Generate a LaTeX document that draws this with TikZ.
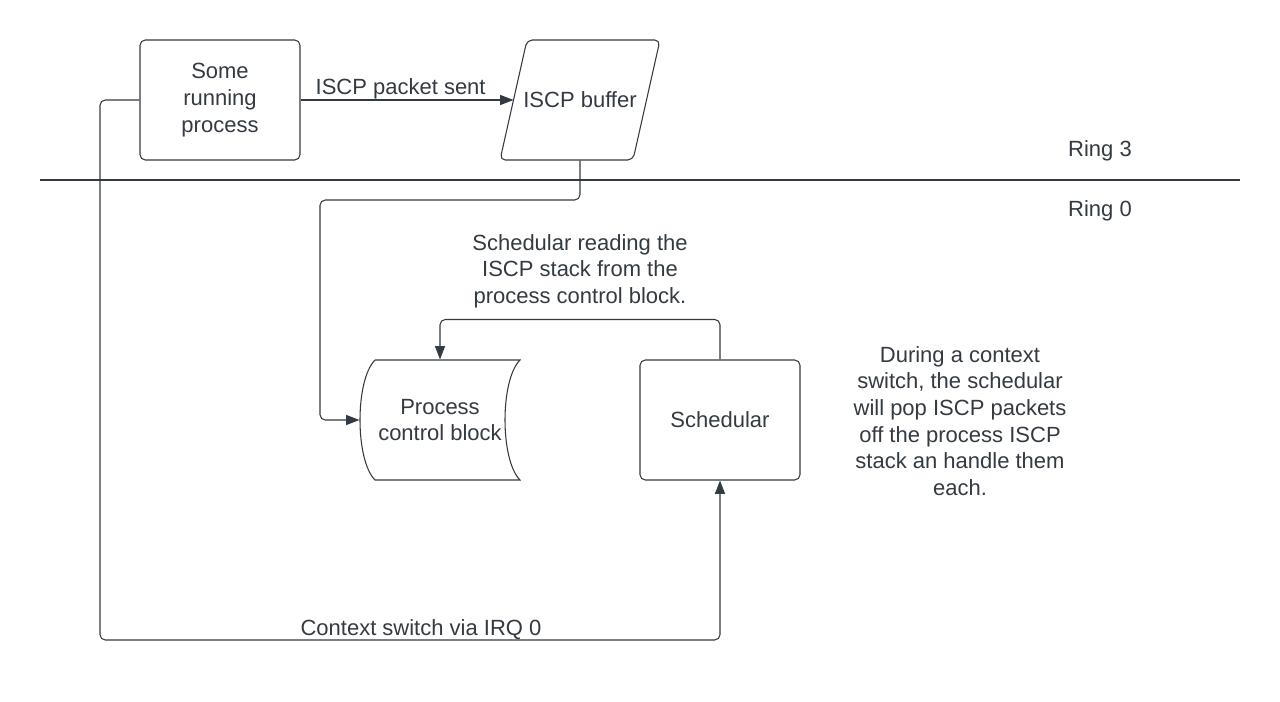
\documentclass[tikz,border=0pt]{standalone}
\usepackage{fontspec}
\setmainfont{Liberation Sans}
\usetikzlibrary{arrows.meta}
\definecolor{ink}{HTML}{343A42}

\begin{document}
\begin{tikzpicture}[x=0.75pt,y=-0.75pt,line width=0.8pt,draw=ink,text=ink,
		font=\fontsize{16.5}{20}\selectfont,
		box/.style = {draw, rounded corners=4pt, minimum width=120pt, minimum height=90pt, align=center},
		blk/.style = {minimum width=120pt, minimum height=90pt, align=center},
		lbl/.style = {align=center},
		>={Triangle[length=10pt,width=7.5pt]}]
		\useasboundingbox (0,0) rectangle (1280,702);
		
		%Ring 3 part of the graph
		\node[box] (proc) at (220,100) {Some\\running\\process};
		\node[blk] (buffer) at (580,100) {ISCP buffer};
		\draw[rounded corners=4pt] (527,40) -- (660,40) -- (633,160) -- (500,160) -- cycle; %Parallelogram outline
		\coordinate (bufin) at (513.5,100);
		
		%Border between the rings
		\coordinate (ringL) at (40,180);
		\coordinate (ringR) at (1240,180);
		\draw (ringL) -- (ringR);
		\node[anchor=base] (ring3) at (1100,157) {Ring 3};
		\node[anchor=base] (ring0) at (1100,217) {Ring 0};
		
		%Ring 0 part of the graph
		\node[blk] (pcb) at (440,420) {Process\\control block};
		\draw (375,360) -- (520,360) .. controls (500,380) and (500,460) .. (520,480)
			-- (375,480) .. controls (355,460) and (355,380) .. (375,360); %Stored data outline
		\node[box] (sched) at (720,420) {Schedular};
		\node[lbl] (readlbl) at (580,271) {Schedular reading the\\ISCP stack from the\\process control block.};
		\node[lbl] (note) at (960,421) {During a context\\switch, the schedular\\will pop ISCP packets\\off the process ISCP\\stack an handle them\\each.};
		
		%Bends of the connectors
		\coordinate (bufbend) at (320,200);
		\coordinate (irqbend) at (100,640);
		
		%Edges with direction
		\draw[->] (proc.east) -- node[above,inner sep=0.5pt,pos=0.47] {ISCP packet sent} (bufin); %Process -> buffer
		\draw[->,rounded corners=4pt] (buffer.south) |- (bufbend) |- (pcb.west); %Buffer -> PCB
		\draw[->,rounded corners=4pt] (sched.north) -- ++(0,-40) -| (pcb.north); %Schedular -> PCB
		\draw[->,rounded corners=4pt] (proc.west) -| (irqbend) -| (sched.south); %Process -> schedular
		\node[anchor=south,inner sep=0pt] (irqlbl) at (421,640) {Context switch via IRQ 0};
		
	\end{tikzpicture}
\end{document}
